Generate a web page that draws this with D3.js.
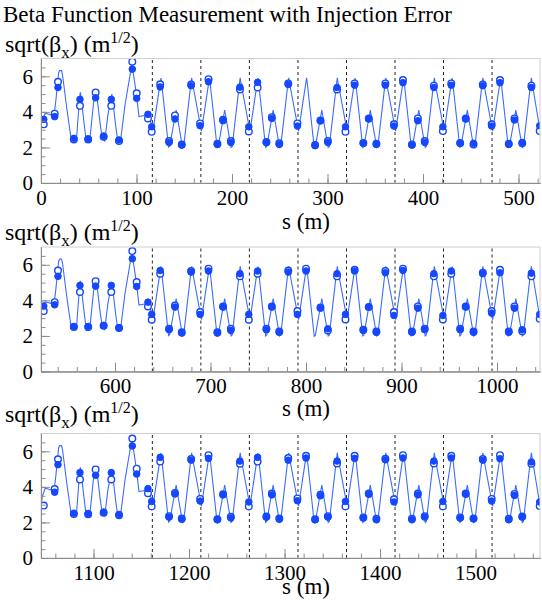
<!DOCTYPE html>
<html>
<head>
<meta charset="utf-8">
<script src="https://cdnjs.cloudflare.com/ajax/libs/d3/7.8.5/d3.min.js"></script>
<style>
  body { margin: 0; background: #fff; }
  text { font-family: "Liberation Serif", "Times New Roman", serif; fill: #000; }
  .frame { fill: none; stroke: #cfcfcf; stroke-width: 1; }
  .axis path, .axis line { stroke: #8c8c8c; }
  .model { fill: none; stroke: #3b6cff; stroke-width: 1.1; }
  .sep { stroke: #222; stroke-width: 1; stroke-dasharray: 3,3; }
  .bpm-open { fill: #fff; stroke: #1447ff; stroke-width: 1.4; }
  .bpm-filled { fill: #1447ff; stroke: #1447ff; stroke-width: 1; }
</style>
</head>
<body>
<script>

// one superperiod of the ring (m); every panel shows one of them
var period = 522.5;

// model sqrt(beta_x) over one superperiod (s in m, value in m^1/2)
var modelS = [0, 1.5, 4.5, 9, 13.6, 15.5, 18.5, 19.5, 21.5, 22.5, 27, 31.8, 34, 37, 40.5, 41.2, 41.8, 45, 47.5, 51,
  55, 57.5, 58.5, 62, 64.2, 66.7, 70, 73.6, 74.2, 75, 78, 80.6, 83.1, 88, 94.9, 95.6, 99.8, 102.6, 107, 111.3, 113.5,
  117.2, 125.0, 125.6, 126.1, 133.6, 134.8, 141.0, 141.5, 142.0, 148.2, 149.4, 157.2, 157.8, 158.3,
  168.0, 175.8, 176.4, 176.9, 184.4, 185.6, 191.8, 192.3, 192.8, 199.0, 200.2, 208.0, 208.6, 209.1,
  218.8, 226.6, 227.2, 227.7, 235.2, 236.4, 242.6, 243.1, 243.6, 249.8, 251.0, 258.8, 259.4, 259.9,
  269.7, 277.5, 278.1, 278.6, 286.1, 287.3, 293.5, 294.0, 294.5, 300.7, 301.9, 309.7, 310.3, 310.8,
  320.5, 328.3, 328.9, 329.4, 336.9, 338.1, 344.3, 344.8, 345.3, 351.5, 352.7, 360.5, 361.1, 361.6,
  371.3, 379.1, 379.7, 380.2, 387.7, 388.9, 395.1, 395.6, 396.1, 402.3, 403.5, 411.3, 411.9, 412.4,
  422.1, 429.9, 430.5, 431.0, 438.5, 439.7, 445.9, 446.4, 446.9, 453.1, 454.3, 462.1, 462.7, 463.2,
  472.9, 480.7, 481.3, 481.8, 489.3, 490.5, 496.7, 497.2, 497.7, 503.9, 505.1, 512.9, 513.5, 514.0,
  522.5];
var modelV = [2.9, 3.5, 3.92, 3.85, 3.76, 4.6, 6.2, 6.32, 6.32, 6.1, 4.2, 2.38, 2.32, 2.38, 4.85, 5.1, 4.9, 3.4, 2.3, 2.36,
  4.5, 5.15, 4.9, 3.3, 2.5, 2.36, 3.8, 4.85, 5.0, 4.7, 3.3, 2.28, 2.3, 4.4, 6.6, 6.55, 5.04, 3.73, 3.78, 3.82, 3.7,
  2.92, 5.7, 5.9, 5.72, 2.02, 2.08, 3.95, 4.1, 3.95, 2.0, 2.06, 5.7, 5.92, 5.72,
  2.92, 5.7, 5.92, 5.72, 2.0, 2.06, 3.95, 4.1, 3.95, 2.0, 2.06, 5.7, 5.92, 5.72,
  2.9, 5.7, 5.9, 5.72, 2.0, 2.06, 3.95, 4.1, 3.95, 2.0, 2.06, 5.7, 5.92, 5.72,
  2.92, 5.7, 5.92, 5.72, 1.98, 2.04, 3.95, 4.1, 3.95, 2.0, 2.06, 5.7, 5.92, 5.72,
  2.92, 5.7, 5.9, 5.72, 2.0, 2.06, 3.95, 4.1, 3.95, 2.0, 2.06, 5.7, 5.92, 5.72,
  2.92, 5.7, 5.92, 5.72, 2.0, 2.06, 3.95, 4.1, 3.95, 2.0, 2.06, 5.7, 5.92, 5.72,
  2.92, 5.7, 5.9, 5.72, 2.0, 2.06, 3.95, 4.1, 3.95, 2.0, 2.06, 5.7, 5.92, 5.72,
  2.92, 5.7, 5.92, 5.72, 2.0, 2.06, 3.95, 4.1, 3.95, 2.0, 2.06, 5.7, 5.92, 5.72,
  2.95];

// BPM positions inside a superperiod (m)
var bpmS = [2.9, 14.3, 17.8, 34.4, 40.8, 49.4, 57.2, 65.6, 73.6, 81.7, 95.6, 100.2, 112.0, 115.9,
  124.8, 134.1, 140.3, 147.4, 157.2, 166.6,
  175.4, 184.7, 190.6, 198.8, 208.3, 217.6,
  226.8, 236.0, 241.7, 249.5, 258.9, 268.5,
  277.5, 287.0, 292.6, 300.4, 310.0, 318.8,
  328.4, 337.5, 343.2, 351.2, 360.6, 369.6,
  379.0, 388.4, 394.6, 401.8, 411.4, 420.8,
  429.6, 438.9, 444.7, 452.9, 462.6, 471.9,
  480.6, 489.8, 495.8, 503.9, 513.5, 522.2];

// measured sqrt(beta_x), filled and open markers, one pair of lists per panel (null = no reading)
var filled1 = [3.58, 3.73, 5.37, 2.51, 4.70, 2.48, 4.79, 2.64, 4.70, 2.42, 6.40, 4.76, 3.86, 3.16,
  5.40, 2.28, 3.60, 2.13, 5.47, 3.22,
  5.69, 2.17, 3.50, 2.28, 5.39, 3.16,
  5.66, 2.27, 3.63, 2.17, 5.54, 3.20,
  null, 2.10, 3.50, 2.28, 5.37, 3.16,
  5.50, 2.23, 3.60, 2.17, 5.50, 3.20,
  5.64, 2.13, 3.50, 2.28, 5.37, 3.16,
  5.50, 2.23, 3.60, 2.23, 5.47, 3.20,
  5.64, 2.17, 3.54, 2.28, 5.37, 3.22];
var open1 = [3.30, 3.90, 5.69, 2.45, 4.34, 2.44, 5.09, 2.60, 4.34, 2.36, 6.82, 5.04, 3.63, 2.88,
  5.55, 2.36, 3.80, 2.17, 5.54, 3.35,
  5.84, 2.20, 3.55, 2.36, 5.26, 2.90,
  5.37, 2.30, 3.70, 2.23, 5.60, 3.35,
  null, 2.13, 3.52, 2.36, 5.26, 2.88,
  5.60, 2.25, 3.62, 2.20, 5.60, 3.30,
  5.79, 2.17, 3.63, 2.36, 5.47, 2.92,
  5.60, 2.25, 3.62, 2.17, 5.54, 3.30,
  5.79, 2.20, 3.63, 2.23, 5.47, 2.92];
var filled2 = [3.68, 3.75, 5.35, 2.53, 4.84, 2.53, 4.80, 2.59, 4.84, 2.46, 6.34, 4.78, 3.90, 3.21,
  5.68, 2.35, 3.62, 2.16, 5.59, 3.21,
  5.65, 2.16, 3.62, 2.31, 5.50, 3.21,
  5.65, 2.35, 3.62, 2.20, 5.59, 3.21,
  5.65, null, 3.56, 2.40, 5.50, 3.21,
  5.65, 2.31, 3.62, 2.20, 5.55, 3.15,
  5.68, 2.20, 3.56, 2.35, 5.50, 3.15,
  5.65, 2.35, 3.62, 2.20, 5.50, 3.28,
  5.55, 2.20, 3.56, 2.35, 5.53, 3.21];
var open2 = [3.40, 3.90, 5.68, 2.50, 4.47, 2.50, 5.08, 2.57, 4.47, 2.44, 6.77, 5.03, 3.66, 2.91,
  5.50, 2.40, 3.71, 2.20, 5.65, 3.34,
  5.78, 2.20, 3.65, 2.40, 5.35, 2.91,
  5.50, 2.40, 3.65, 2.25, 5.68, 3.40,
  5.78, null, 3.60, 2.31, 5.35, 2.93,
  5.72, 2.35, 3.62, 2.25, 5.65, 3.34,
  5.78, 2.25, 3.66, 2.40, 5.35, 2.93,
  5.50, 2.40, 3.65, 2.25, 5.55, 3.40,
  5.72, 2.25, 3.66, 2.27, 5.35, 2.96];
var filled3 = [null, 3.70, 5.25, 2.52, 4.80, 2.50, 4.65, 2.58, 4.80, 2.45, 6.30, 4.72, 3.90, 3.18,
  5.66, 2.30, 3.60, 2.18, 5.50, 3.20,
  5.60, 2.15, 3.55, 2.25, 5.45, 3.15,
  5.66, 2.30, 3.55, 2.18, 5.50, 3.22,
  5.62, 2.15, 3.50, 2.30, 5.45, 3.18,
  5.60, 2.25, 3.58, 2.15, 5.52, 3.15,
  5.62, 2.15, 3.55, 2.30, 5.45, 3.18,
  5.62, 2.25, 3.58, 2.20, 5.50, 3.20,
  5.58, 2.15, 3.52, 2.30, 5.40, 3.15];
var open3 = [2.95, 3.88, 5.55, 2.48, 4.42, 2.46, 4.98, 2.55, 4.42, 2.40, 6.72, 5.02, 3.64, 2.90,
  5.42, 2.35, 3.65, 2.22, 5.56, 3.32,
  5.78, 2.18, 3.58, 2.32, 5.30, 2.90,
  5.42, 2.33, 3.62, 2.22, 5.62, 3.35,
  5.75, 2.18, 3.55, 2.35, 5.32, 2.90,
  5.75, 2.28, 3.62, 2.20, 5.58, 3.30,
  5.78, 2.20, 3.62, 2.35, 5.32, 2.90,
  5.75, 2.28, 3.62, 2.22, 5.56, 3.32,
  5.78, 2.20, 3.60, 2.33, 5.30, 2.92];

// arc module boundaries drawn as dashed lines (s inside a superperiod)
var moduleS = [116.6, 167.4, 218.2, 269.1, 319.9, 370.7, 421.5, 472.3];

// labelled ticks
var xTicks1 = [0, 100, 200, 300, 400, 500];
var xTicks2 = [600, 700, 800, 900, 1000];
var xTicks3 = [1100, 1200, 1300, 1400, 1500];
var yTicks = [0, 2, 4, 6];

var panels = [
  {filled: filled1, open: open1, ticks: xTicks1, top: 58.5, yTitle: 51.5, xTitle: 46},
  {filled: filled2, open: open2, ticks: xTicks2, top: 247, yTitle: 240, xTitle: 44},
  {filled: filled3, open: open3, ticks: xTicks3, top: 433.5, yTitle: 422, xTitle: 36}
];

var width = 542, height = 601;
var left = 41, right = 540, panelH = 124.5;
var serif = '"Liberation Serif", "Times New Roman", serif';

var svg = d3.select("body").append("svg")
    .attr("width", width)
    .attr("height", height);

svg.append("text")
    .attr("x", 3)
    .attr("y", 22)
    .style("font-size", "23px")
    .text("Beta Function Measurement with Injection Error");

var model = modelS.map(function(s, i) { return {s: s, v: modelV[i]}; });

panels.forEach(function(p, k) {
  var s0 = k * period;
  var top = p.top, bottom = top + panelH;

  var x = d3.scaleLinear().domain([s0, s0 + period]).range([left, right]);
  var y = d3.scaleLinear().domain([0, 7]).range([bottom, top]);

  var g = svg.append("g");

  // y title: sqrt(beta_x) (m^1/2)
  var yt = g.append("text")
      .attr("x", 5)
      .attr("y", p.yTitle)
      .style("font-size", "24px");
  yt.append("tspan").text("sqrt(\u03b2");
  yt.append("tspan").attr("dy", 6).style("font-size", "17px").text("x");
  yt.append("tspan").attr("dy", -6).text(") (m");
  yt.append("tspan").attr("dy", -9).style("font-size", "16px").text("1/2");
  yt.append("tspan").attr("dy", 9).text(")");

  // keep marks inside the frame
  g.append("clipPath").attr("id", "clip" + k)
    .append("rect")
      .attr("x", left).attr("y", top)
      .attr("width", right - left).attr("height", panelH);

  var plot = g.append("g").attr("clip-path", "url(#clip" + k + ")");

  // module boundaries
  plot.selectAll(".sep")
      .data(moduleS)
    .enter().append("line")
      .attr("class", "sep")
      .attr("x1", function(d) { return x(s0 + d); })
      .attr("x2", function(d) { return x(s0 + d); })
      .attr("y1", y(0))
      .attr("y2", y(7));

  // model line
  var line = d3.line()
      .x(function(d) { return x(s0 + d.s); })
      .y(function(d) { return y(d.v); });

  plot.append("path")
      .datum(model)
      .attr("class", "model")
      .attr("d", line);

  // measured points
  var openPts = bpmS.map(function(s, i) { return {s: s, v: p.open[i]}; })
      .filter(function(d) { return d.v != null; });
  var filledPts = bpmS.map(function(s, i) { return {s: s, v: p.filled[i]}; })
      .filter(function(d) { return d.v != null; });

  plot.selectAll(".bpm-open")
      .data(openPts)
    .enter().append("circle")
      .attr("class", "bpm-open")
      .attr("cx", function(d) { return x(s0 + d.s); })
      .attr("cy", function(d) { return y(d.v); })
      .attr("r", 3.3);

  plot.selectAll(".bpm-filled")
      .data(filledPts)
    .enter().append("circle")
      .attr("class", "bpm-filled")
      .attr("cx", function(d) { return x(s0 + d.s); })
      .attr("cy", function(d) { return y(d.v); })
      .attr("r", 3.3);

  // frame
  g.append("rect")
      .attr("class", "frame")
      .attr("x", left).attr("y", top)
      .attr("width", right - left).attr("height", panelH);

  // axes, ticks pointing inwards
  var minorX = d3.range(Math.ceil(s0 / 20) * 20, s0 + period, 20);
  g.append("g")
      .attr("class", "axis")
      .attr("transform", "translate(0," + bottom + ")")
      .call(d3.axisBottom(x).tickValues(minorX).tickSize(-4.5).tickSizeOuter(0).tickFormat(""));
  g.append("g")
      .attr("class", "axis")
      .attr("transform", "translate(0," + bottom + ")")
      .call(d3.axisBottom(x).tickValues(p.ticks).tickSize(-9).tickSizeOuter(0).tickPadding(7)
        .tickFormat(d3.format("d")))
      .attr("font-family", serif)
      .attr("font-size", 21);

  g.append("g")
      .attr("class", "axis")
      .attr("transform", "translate(" + left + ",0)")
      .call(d3.axisLeft(y).tickValues(d3.range(0, 7, 0.5)).tickSize(-4.5).tickSizeOuter(0).tickFormat(""));
  g.append("g")
      .attr("class", "axis")
      .attr("transform", "translate(" + left + ",0)")
      .call(d3.axisLeft(y).tickValues(yTicks).tickSize(-9).tickSizeOuter(0).tickPadding(8)
        .tickFormat(d3.format("d")))
      .attr("font-family", serif)
      .attr("font-size", 21);

  g.selectAll(".axis text")
      .style("font-family", serif)
      .style("fill", "#000");

  // x title
  g.append("text")
      .attr("x", 306)
      .attr("y", bottom + p.xTitle)
      .attr("text-anchor", "middle")
      .style("font-size", "23px")
      .text("s (m)");
});

</script>
</body>
</html>
